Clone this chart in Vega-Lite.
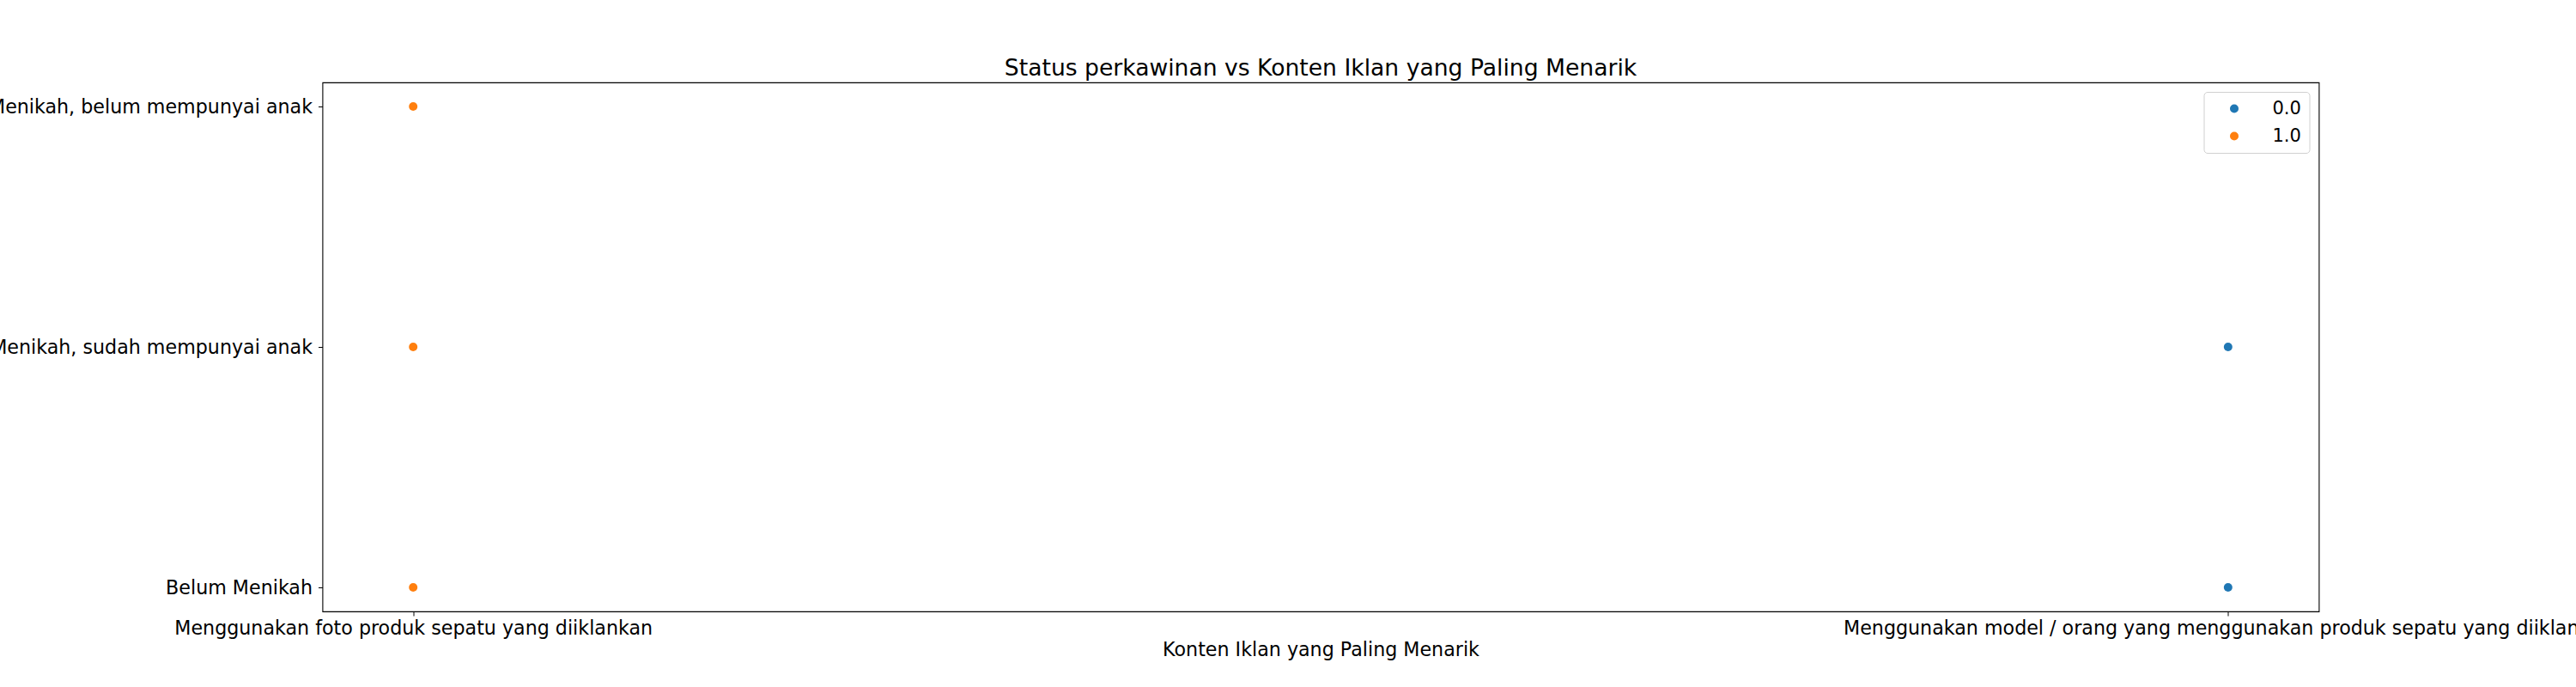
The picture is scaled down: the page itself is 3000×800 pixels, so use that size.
{
  "$schema": "https://vega.github.io/schema/vega-lite/v6.json",
  "width": 2325,
  "height": 616,
  "autosize": "none",
  "padding": {"left": 375.5, "top": 96, "right": 299.5, "bottom": 88},
  "background": "white",
  "config": {
    "font": "DejaVu Sans",
    "view": {"stroke": "#000000", "strokeWidth": 1.1},
    "axis": {
      "grid": false,
      "domain": false,
      "tickColor": "#000000",
      "tickSize": 5,
      "tickWidth": 1,
      "labelColor": "#000000",
      "labelFontSize": 22.2,
      "labelFont": "DejaVu Sans",
      "labelPadding": 3,
      "titleColor": "#000000",
      "titleFontSize": 22.2,
      "titleFontWeight": "normal",
      "titleFont": "DejaVu Sans",
      "labelOverlap": false,
      "labelLimit": 0
    }
  },
  "title": {
    "text": "Status perkawinan vs Konten Iklan yang Paling Menarik",
    "font": "DejaVu Sans",
    "fontSize": 26.6,
    "fontWeight": "normal",
    "color": "#000000",
    "anchor": "middle",
    "baseline": "alphabetic",
    "offset": -19
  },
  "data": {
    "values": [
      {"konten": "Menggunakan foto produk sepatu yang diiklankan", "status": "Menikah, belum mempunyai anak", "label": "1.0"},
      {"konten": "Menggunakan foto produk sepatu yang diiklankan", "status": "Menikah, sudah mempunyai anak", "label": "1.0"},
      {"konten": "Menggunakan foto produk sepatu yang diiklankan", "status": "Belum Menikah", "label": "1.0"},
      {"konten": "Menggunakan model / orang yang menggunakan produk sepatu yang diiklankan", "status": "Menikah, sudah mempunyai anak", "label": "0.0"},
      {"konten": "Menggunakan model / orang yang menggunakan produk sepatu yang diiklankan", "status": "Belum Menikah", "label": "0.0"}
    ]
  },
  "mark": {"type": "point", "filled": true, "opacity": 1, "size": 100},
  "encoding": {
    "x": {
      "field": "konten",
      "type": "nominal",
      "sort": ["Menggunakan foto produk sepatu yang diiklankan", "Menggunakan model / orang yang menggunakan produk sepatu yang diiklankan"],
      "scale": {"type": "point", "padding": 0.05},
      "axis": {"labelAngle": 0, "title": "Konten Iklan yang Paling Menarik", "titlePadding": 3}
    },
    "y": {
      "field": "status",
      "type": "nominal",
      "sort": ["Menikah, belum mempunyai anak", "Menikah, sudah mempunyai anak", "Belum Menikah"],
      "scale": {"type": "point", "padding": 0.1},
      "axis": {"title": null, "labelPadding": 7}
    },
    "color": {
      "field": "label",
      "type": "nominal",
      "scale": {"domain": ["0.0", "1.0"], "range": ["#1f77b4", "#ff7f0e"]},
      "legend": {
        "title": null,
        "orient": "top-right",
        "offset": 11,
        "padding": 9,
        "fillColor": "white",
        "strokeColor": "#d0d0d0",
        "cornerRadius": 4,
        "symbolType": "circle",
        "symbolSize": 100,
        "symbolOffset": 16,
        "labelOffset": 34,
        "labelFontSize": 21,
        "labelFontWeight": "normal",
        "labelColor": "#000000",
        "labelFont": "DejaVu Sans",
        "rowPadding": 10
      }
    }
  }
}
